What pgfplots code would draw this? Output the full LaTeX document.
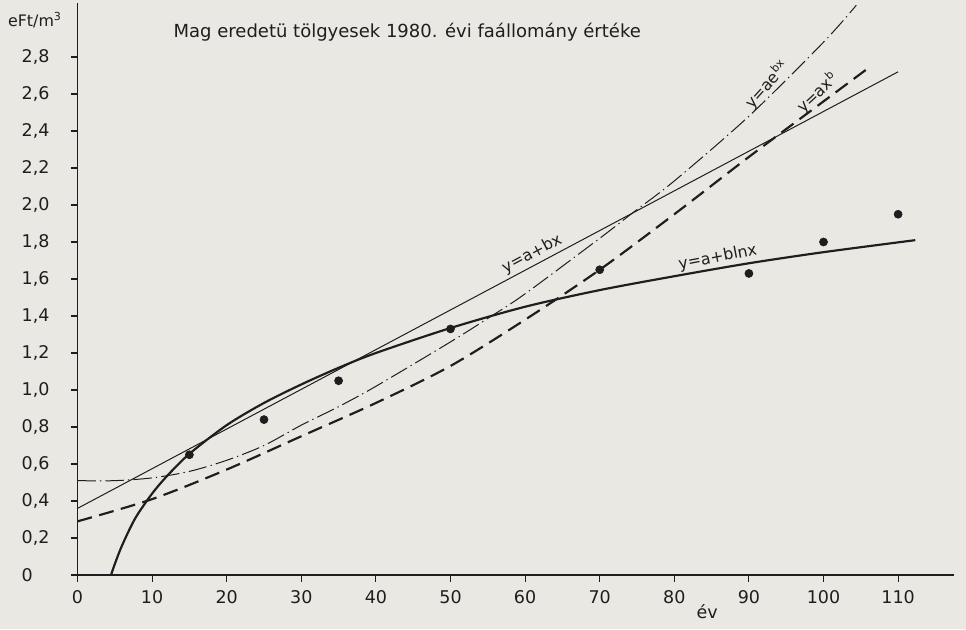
\documentclass[border=0pt]{standalone}
\usepackage{pgfplots}
\pgfplotsset{compat=1.18}
\usepackage{fontspec}
\setmainfont{DejaVu Sans}

\definecolor{paper}{HTML}{E9E8E3}
\definecolor{ink}{HTML}{1E1E1E}

% scatter points (ev, eFt/m3)
\pgfplotstableread{
x y
15 0.65
25 0.84
35 1.05
50 1.33
70 1.65
90 1.63
100 1.80
110 1.95
}\pontok

\begin{document}
\begin{tikzpicture}
% paper background, 1px = 0.6pt, origin at data (0,0)
\fill[paper] (-46.5pt,-32.4pt) rectangle (533.1pt,345pt);
\begin{axis}[
    anchor=origin, at={(0pt,0pt)},
    x=4.476pt, y=111pt,
    xmin=0, xmax=117.5,
    ymin=0, ymax=3.09,
    axis lines=left,
    axis line style={-, line width=0.8pt, ink},
    clip=false,
    xtick={0,10,20,30,40,50,60,70,80,90,100,110},
    ytick={0,0.2,0.4,0.6,0.8,1.0,1.2,1.4,1.6,1.8,2.0,2.2,2.4,2.6,2.8},
    yticklabels={0,{0,2},{0,4},{0,6},{0,8},{1,0},{1,2},{1,4},{1,6},{1,8},{2,0},{2,2},{2,4},{2,6},{2,8}},
    xticklabel={\pgfmathprintnumber[int detect]{\tick}},
    /pgf/number format/assume math mode=true,
    tick align=outside,
    major tick length=4pt,
    tick style={line width=0.7pt, ink},
    ticklabel style={font=\fontsize{10.5}{12}\selectfont, text=ink},
    yticklabel style={anchor=west, xshift=-33pt},
    xticklabel style={yshift=-2pt},
]

% y = a + b ln x
\addplot[ink, line width=1.3pt, smooth] coordinates {
    (4.5,0) (4.7,0.025) (5,0.059) (5.5,0.113) (6,0.162) (7,0.249) (8,0.324)
    (10,0.44) (12,0.535) (15,0.655) (20,0.81) (25,0.93) (30,1.03)
    (35,1.12) (40,1.20) (50,1.335) (60,1.45) (70,1.54) (80,1.615)
    (90,1.685) (100,1.745) (112.3,1.81)
};

% y = a + bx
\addplot[ink, line width=0.6pt] coordinates {
    (0,0.36) (110,2.72)
};

% y = a e^{bx}
\addplot[ink, line width=0.6pt, smooth,
    dash pattern=on 11pt off 2.5pt on 0.8pt off 2.5pt] coordinates {
    (0,0.51) (5,0.51) (10,0.525) (15,0.56) (20,0.62) (25,0.70) (30,0.81)
    (35,0.91) (40,1.02) (50,1.26) (55.5,1.40) (60,1.52) (70,1.82)
    (74.5,1.96) (80,2.13) (90,2.48) (100,2.88) (104.4,3.08)
};

% y = a x^b
\addplot[ink, line width=1.3pt, smooth,
    dash pattern=on 9pt off 4.5pt] coordinates {
    (0,0.29) (10,0.41) (20,0.57) (30,0.75) (40,0.93) (50,1.13) (60,1.38)
    (70,1.65) (80,1.95) (90,2.26) (100,2.56) (106,2.74)
};

% measured values
\addplot[only marks, mark=*, mark size=2.4pt, ink] table[x=x, y=y] {\pontok};

% curve labels, sitting on their curves
\node[rotate=28, anchor=south, inner sep=1.5pt, font=\fontsize{9.5}{11}\selectfont, text=ink] at (axis cs:61.6,1.684) {y=a+bx};
\node[rotate=11, anchor=south, inner sep=1.5pt, font=\fontsize{9.5}{11}\selectfont, text=ink] at (axis cs:86.1,1.66) {y=a+blnx};
\node[rotate=48, anchor=south, inner sep=1.5pt, font=\fontsize{9.5}{11}\selectfont, text=ink] at (axis cs:93.6,2.61) {y=ae\textsuperscript{bx}};
\node[rotate=43, anchor=south, inner sep=1pt, font=\fontsize{9.5}{11}\selectfont, text=ink] at (axis cs:100.2,2.565) {y=ax\textsuperscript{b}};

% title, unit, axis name
\node[anchor=west, font=\fontsize{10.8}{12}\selectfont, text=ink] at (axis cs:12.1,2.935) {Mag eredetü tölgyesek 1980. évi faállomány értéke};
\node[font=\fontsize{9.5}{11}\selectfont, text=ink] at (axis cs:-5.7,3.0) {eFt/m\textsuperscript{3}};
\node[font=\fontsize{10.5}{12}\selectfont, text=ink] at (axis cs:84.4,-0.2) {év};

\end{axis}
\end{tikzpicture}
\end{document}
